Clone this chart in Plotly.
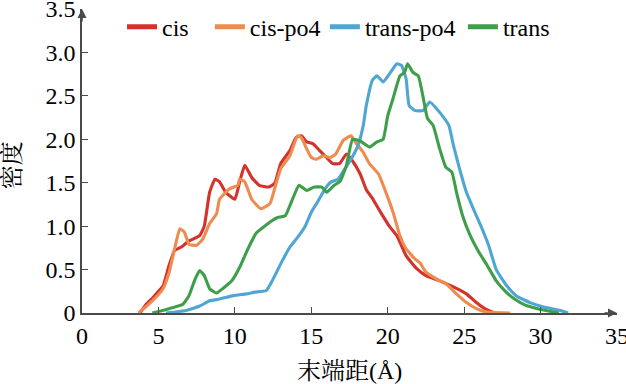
import plotly.graph_objects as go

# ---- data ----
cis_x = [3.8, 4.2, 4.6, 5.0, 5.3, 5.7, 6.06, 6.5, 7.0, 7.7, 8.0, 8.35, 8.7, 9.0, 9.4, 10.0, 10.3, 10.65,
         11.1, 11.6, 12.2, 12.6, 13.0, 13.6, 14.0, 14.35, 14.7, 15.1, 15.55, 16.0, 16.4, 16.85, 17.3, 17.7,
         18.2, 18.6, 19.0, 19.5, 20.1, 20.6, 21.2, 21.9, 22.5, 23.4, 24.3, 25.15, 25.8, 26.35, 27.0]
cis_y = [0.0, 0.1, 0.17, 0.25, 0.31, 0.55, 0.72, 0.76, 0.83, 0.89, 1.0, 1.39, 1.54, 1.51, 1.39, 1.31, 1.5, 1.70,
         1.56, 1.47, 1.45, 1.49, 1.72, 1.87, 2.02, 2.04, 1.97, 1.95, 1.87, 1.79, 1.72, 1.72, 1.83, 1.75,
         1.6, 1.42, 1.32, 1.17, 1.0, 0.89, 0.66, 0.51, 0.43, 0.37, 0.30, 0.22, 0.12, 0.05, 0.0]

cispo4_x = [3.7, 4.6, 5.3, 5.7, 6.06, 6.4, 6.7, 7.0, 7.5, 7.9, 8.35, 8.8, 9.0, 9.65, 10.2, 10.3, 10.65, 11.1,
            11.7, 12.3, 12.6, 13.0, 13.6, 14.1, 14.35, 14.7, 15.0, 15.3, 15.8, 16.2, 16.6, 17.1, 17.6, 17.95,
            18.4, 18.8, 19.4, 19.9, 20.35, 20.8, 21.2, 21.8, 22.1, 22.5, 23.2, 23.85, 24.5, 25.15, 25.8, 26.5, 28.0]
cispo4_y = [0.0, 0.14, 0.28, 0.47, 0.74, 0.97, 0.93, 0.79, 0.78, 0.85, 1.03, 1.14, 1.31, 1.43, 1.47, 1.54, 1.51, 1.31,
            1.2, 1.26, 1.43, 1.66, 1.81, 2.04, 2.02, 1.89, 1.79, 1.77, 1.81, 1.79, 1.83, 1.99, 2.04, 1.95,
            1.85, 1.72, 1.6, 1.38, 1.16, 0.89, 0.74, 0.62, 0.58, 0.47, 0.39, 0.33, 0.22, 0.12, 0.05, 0.01, 0.0]

transpo4_x = [5.5, 6.8, 7.7, 8.35, 9.0, 9.9, 10.75, 11.3, 12.06, 12.5, 13.04, 13.6, 14.1, 14.6, 15.0, 15.45,
              15.9, 16.3, 16.75, 17.2, 17.6, 18.06, 18.4, 18.6, 19.0, 19.3, 19.7, 20.1, 20.6, 20.9, 21.2, 21.4,
              21.8, 22.3, 22.75, 23.4, 24.0, 24.3, 24.7, 25.15, 25.7, 26.1, 26.6, 27.1, 27.8, 28.4, 29.3, 30.2,
              31.3, 31.8]
transpo4_y = [0.0, 0.03, 0.08, 0.14, 0.16, 0.2, 0.22, 0.24, 0.26, 0.39, 0.58, 0.76, 0.87, 1.0, 1.16, 1.29,
              1.43, 1.51, 1.54, 1.66, 1.77, 1.93, 2.16, 2.39, 2.68, 2.73, 2.66, 2.75, 2.87, 2.85, 2.70, 2.39,
              2.33, 2.33, 2.43, 2.31, 2.16, 1.93, 1.66, 1.39, 1.16, 1.0, 0.78, 0.5, 0.31, 0.20, 0.12, 0.07,
              0.03, 0.0]

trans_x = [4.6, 5.7, 6.6, 7.0, 7.4, 7.7, 8.0, 8.35, 8.8, 9.2, 9.8, 10.3, 10.86, 11.4, 11.95, 12.4, 12.8, 13.3,
           13.7, 14.2, 14.7, 15.2, 15.7, 16.0, 16.5, 16.9, 17.3, 17.7, 18.2, 18.8, 19.3, 19.7, 20.0, 20.35,
           20.8, 21.1, 21.3, 21.65, 22.0, 22.3, 22.6, 22.97, 23.4, 23.8, 24.2, 24.5, 24.9, 25.4, 25.9, 26.5,
           27.1, 27.7, 28.3, 29.0, 29.8, 30.6, 31.2]
trans_y = [0.0, 0.05, 0.10, 0.2, 0.39, 0.49, 0.43, 0.28, 0.23, 0.28, 0.37, 0.52, 0.74, 0.92, 1.0, 1.06, 1.10, 1.12,
           1.28, 1.47, 1.41, 1.45, 1.45, 1.39, 1.47, 1.52, 1.70, 2.0, 1.98, 1.91, 1.97, 2.0, 2.27, 2.47,
           2.73, 2.77, 2.87, 2.77, 2.73, 2.50, 2.24, 2.16, 1.89, 1.68, 1.62, 1.39, 1.12, 0.89, 0.72, 0.55,
           0.37, 0.25, 0.16, 0.09, 0.05, 0.02, 0.0]

series_names = ["cis", "cis-po4", "trans-po4", "trans"]
series_colors = ["#d4322a", "#ee8b4f", "#4fa6d2", "#3f9e4a"]
x_tick_vals = [0, 5, 10, 15, 20, 25, 30, 35]
y_tick_vals = [0, 0.5, 1.0, 1.5, 2.0, 2.5, 3.0, 3.5]
y_tick_text = ["0", "0.5", "1.0", "1.5", "2.0", "2.5", "3.0", "3.5"]
x_title = "末端距(Å)"
y_title = "密度"

SERIF = "Liberation Serif, Times New Roman, Noto Serif CJK SC, Noto Sans CJK SC, serif"
AXIS_COLOR = "#4a4a4a"
FS = 24

legend_ids = ["legend", "legend2", "legend3", "legend4"]
legend_xs = [0.0748, 0.239, 0.454, 0.712]

fig = go.Figure()
for name, xs, ys, col, lid in zip(series_names,
                                  [cis_x, cispo4_x, transpo4_x, trans_x],
                                  [cis_y, cispo4_y, transpo4_y, trans_y],
                                  series_colors, legend_ids):
    fig.add_trace(go.Scatter(x=xs, y=ys, mode="lines", name=name, legend=lid,
                             line=dict(color=col, width=3.1, shape="spline", smoothing=0.4)))

legend_common = dict(orientation="h", xanchor="left", y=0.94, yanchor="middle",
                     font=dict(family=SERIF, size=FS, color="black"),
                     bgcolor="rgba(0,0,0,0)", itemwidth=30, tracegroupgap=0, itemsizing="constant")
legend_layout = {lid: dict(x=lx, **legend_common) for lid, lx in zip(legend_ids, legend_xs)}

fig.update_layout(
    width=626, height=384,
    margin=dict(l=82, r=9, t=9, b=71, autoexpand=False),
    paper_bgcolor="white", plot_bgcolor="white",
    font=dict(family=SERIF, size=FS, color="black"),
    showlegend=True,
    xaxis=dict(range=[0, 35], tickvals=x_tick_vals, ticks="inside", ticklen=6, tickwidth=1,
               tickcolor=AXIS_COLOR, showline=True, linecolor=AXIS_COLOR, linewidth=1.5,
               showgrid=False, zeroline=False, automargin=False, ticklabeloverflow="allow",
               tickfont=dict(family=SERIF, size=FS)),
    yaxis=dict(range=[0, 3.5], tickvals=y_tick_vals, ticktext=y_tick_text, ticks="inside", ticklen=6,
               tickwidth=1, tickcolor=AXIS_COLOR, showline=True, linecolor=AXIS_COLOR, linewidth=1.5,
               showgrid=False, zeroline=False, automargin=False, ticklabeloverflow="allow",
               tickfont=dict(family=SERIF, size=FS)),
    **legend_layout,
)

# axis titles
fig.add_annotation(x=0.5, y=-0.19, xref="paper", yref="paper", text=x_title, showarrow=False,
                   xanchor="center", yanchor="middle", font=dict(family=SERIF, size=FS))
fig.add_annotation(x=-0.131, y=0.486, xref="paper", yref="paper", text=y_title, showarrow=False,
                   textangle=-90, xanchor="center", yanchor="middle", font=dict(family=SERIF, size=FS))

# arrowheads at the ends of the axes
fig.add_annotation(x=0, y=3.5, xref="x", yref="y", ax=0, ay=14, text="", showarrow=True,
                   arrowhead=2, arrowsize=1.2, arrowwidth=1.5, arrowcolor=AXIS_COLOR)
fig.add_annotation(x=35, y=0, xref="x", yref="y", ax=-14, ay=0, text="", showarrow=True,
                   arrowhead=2, arrowsize=1.2, arrowwidth=1.5, arrowcolor=AXIS_COLOR)

fig.write_html("out.html", config={"displayModeBar": False},
               post_script="document.body.style.margin='0';document.body.style.overflow='hidden';")
